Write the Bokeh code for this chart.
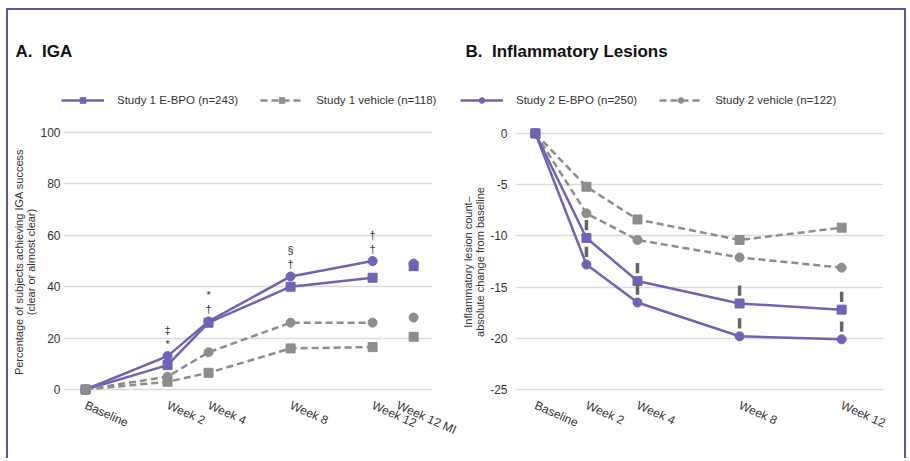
from bokeh.plotting import figure
from bokeh.models import FixedTicker, Legend, LegendItem, Label, Range1d
from bokeh.layouts import row, column
from bokeh.embed import file_html
from bokeh.resources import INLINE
from bokeh.core.properties import value

# ---------------- Panel A: IGA success (%) ----------------
iga_categories = ["Baseline", "Week 2", "Week 4", "Week 8", "Week 12", "Week 12 MI"]
iga_slots = [0, 2, 3, 5, 7, 8]
iga_s1_ebpo = [0, 9.5, 26, 40, 43.5]
iga_s1_vehicle = [0, 3, 6.5, 16, 16.5]
iga_s2_ebpo = [0, 13, 26.5, 44, 50]
iga_s2_vehicle = [0, 5, 14.5, 26, 26]
iga_mi_s1_ebpo = [48]
iga_mi_s1_vehicle = [20.5]
iga_mi_s2_ebpo = [49]
iga_mi_s2_vehicle = [28]
iga_sig_lower = ["", "*", "\u2020", "\u2020", "\u2020"]
iga_sig_upper = ["", "\u2021", "*", "\u00a7", "\u2020"]
iga_yticks = [0, 20, 40, 60, 80, 100]

# ---------------- Panel B: Inflammatory lesions ----------------
les_categories = ["Baseline", "Week 2", "Week 4", "Week 8", "Week 12"]
les_slots = [0, 1, 2, 4, 6]
les_s1_ebpo = [0, -10.2, -14.4, -16.6, -17.2]
les_s1_vehicle = [0, -5.2, -8.4, -10.4, -9.2]
les_s2_ebpo = [0, -12.8, -16.5, -19.8, -20.1]
les_s2_vehicle = [0, -7.8, -10.4, -12.1, -13.1]
les_sig = [False, True, True, True, True]
les_yticks = [0, -5, -10, -15, -20, -25]

PURPLE = "#6f63b4"
GRAY = "#8d8d8d"
TXT = "#333333"
FONT = "Liberation Sans"
DASH = "7 4"
NAN = float("nan")


def base_fig(width, xr, yr, left, right, ticks, cats, slots, ylabel, tstand, lstand):
    p = figure(width=width, height=333, x_range=Range1d(*xr), y_range=Range1d(*yr),
               output_backend="svg", toolbar_location=None,
               min_border_left=left, min_border_right=right,
               min_border_top=2, min_border_bottom=62)
    p.outline_line_color = None
    p.background_fill_color = "white"
    p.border_fill_color = "white"
    p.xgrid.grid_line_color = None
    p.ygrid.grid_line_color = "#dedad8"
    p.ygrid.grid_line_width = 1.5
    p.yaxis.ticker = FixedTicker(ticks=ticks)
    p.yaxis.major_label_overrides = {t: str(t) for t in ticks}
    p.xaxis.ticker = FixedTicker(ticks=slots)
    p.xaxis.major_label_overrides = {s: c for s, c in zip(slots, cats)}
    p.xaxis.major_label_orientation = -0.42
    for ax in (p.xaxis, p.yaxis):
        ax.axis_line_color = None
        ax.major_tick_line_color = None
        ax.minor_tick_line_color = None
        ax.major_tick_out = 0
        ax.major_tick_in = 0
        ax.minor_tick_out = 0
        ax.minor_tick_in = 0
        ax.major_label_text_font = FONT
        ax.major_label_text_font_size = "12px"
        ax.major_label_text_color = TXT
    p.xaxis.major_label_standoff = 8
    p.yaxis.major_label_standoff = tstand
    p.yaxis.axis_label = ylabel
    p.yaxis.axis_label_text_font = FONT
    p.yaxis.axis_label_text_font_size = "11px"
    p.yaxis.axis_label_text_line_height = 1.0
    p.yaxis.axis_label_text_font_style = "normal"
    p.yaxis.axis_label_text_color = TXT
    p.yaxis.axis_label_standoff = lstand
    return p


def series(p, xs, ys, color, marker, dashed):
    ln = p.line(xs, ys, line_color=color, line_width=2.5,
                line_dash=DASH if dashed else "solid")
    sc = p.scatter(xs, ys, marker=marker, size=9, fill_color=color, line_color=color)
    return [ln, sc]


# ---- Header strip: panel titles and legends ----
hdr = figure(width=896, height=115, x_range=Range1d(0, 896), y_range=Range1d(0, 115),
             output_backend="svg", toolbar_location=None, min_border=0,
             x_axis_type=None, y_axis_type=None)
hdr.outline_line_color = None
hdr.grid.grid_line_color = None
hdr.border_fill_color = "white"

legend_specs = [
    ("Study 1 E-BPO (n=243)", PURPLE, "square", False),
    ("Study 1 vehicle (n=118)", GRAY, "square", True),
    ("Study 2 E-BPO (n=250)", PURPLE, "circle", False),
    ("Study 2 vehicle (n=122)", GRAY, "circle", True),
]
items = []
for lab, col, mk, dsh in legend_specs:
    # legend-only renderers (no visible data points)
    rs = series(hdr, [NAN], [NAN], col, mk, dsh)
    items.append(LegendItem(label=lab, renderers=rs))


def add_legend(its, lx):
    leg = Legend(items=its, orientation="horizontal", location=(lx, 18),
                 glyph_width=43, glyph_height=14, label_height=14,
                 label_standoff=13, spacing=22, padding=0, margin=0,
                 border_line_color=None, background_fill_alpha=0,
                 label_text_font=FONT, label_text_font_size="11.5px",
                 label_text_color=TXT)
    hdr.add_layout(leg)


add_legend(items[:2], 53)
add_legend(items[2:], 452)
for tx, title in ((7, "A.\u00a0\u00a0IGA"), (457, "B.\u00a0\u00a0Inflammatory Lesions")):
    hdr.add_layout(Label(x=tx, y=74, text=title, text_font=FONT, text_font_size="17px",
                         text_font_style="bold", text_color="#111111",
                         text_baseline="middle", text_align="left"))

# ---- Panel A ----
pA = base_fig(450, (-0.537, 8.46), (-2.72, 101.95), 55, 26, iga_yticks,
              iga_categories, iga_slots,
              "Percentage of subjects achieving IGA success\n(clear or almost clear)", 3, 0)
xa = iga_slots[:5]
series(pA, xa, iga_s1_ebpo, PURPLE, "square", False)
series(pA, xa, iga_s1_vehicle, GRAY, "square", True)
series(pA, xa, iga_s2_ebpo, PURPLE, "circle", False)
series(pA, xa, iga_s2_vehicle, GRAY, "circle", True)
xmi = [iga_slots[5]]
pA.scatter(xmi, iga_mi_s1_vehicle, marker="square", size=9, color=GRAY)
pA.scatter(xmi, iga_mi_s2_vehicle, marker="circle", size=9, color=GRAY)
pA.scatter(xmi, iga_mi_s1_ebpo, marker="square", size=9, color=PURPLE)
pA.scatter(xmi, iga_mi_s2_ebpo, marker="circle", size=9, color=PURPLE)
pA.text(xa, iga_s2_ebpo, text=iga_sig_lower, y_offset=-12, text_align="center",
        text_baseline="middle", text_font=value(FONT), text_font_size="11px",
        text_color=TXT)
pA.text(xa, iga_s2_ebpo, text=iga_sig_upper, y_offset=-26, text_align="center",
        text_baseline="middle", text_font=value(FONT), text_font_size="11px",
        text_color=TXT)

# ---- Panel B ----
pB = base_fig(446, (-0.39, 6.82), (-25.68, 0.58), 57, 21, les_yticks,
              les_categories, les_slots,
              "Inflammatory lesion count\u2013\nabsolute change from baseline", 8, 1)
series(pB, les_slots, les_s1_vehicle, GRAY, "square", True)
series(pB, les_slots, les_s2_vehicle, GRAY, "circle", True)
series(pB, les_slots, les_s1_ebpo, PURPLE, "square", False)
series(pB, les_slots, les_s2_ebpo, PURPLE, "circle", False)
sx, sy0, sy1 = [], [], []
for s, m, a, b in zip(les_slots, les_sig, les_s1_ebpo, les_s2_ebpo):
    if m:
        for v in (a, b):
            sx.append(s)
            sy0.append(v + 0.75)
            sy1.append(v + 1.75)
pB.segment(sx, sy0, sx, sy1, line_color="#666666", line_width=3.5)

layout = column(hdr, row(pA, pB),
                styles={"border-top": "2px solid #5e55a0",
                        "border-left": "2px solid #5e55a0",
                        "border-right": "2px solid #5e55a0",
                        "margin-left": "6px", "margin-top": "8px"})

open("out.html", "w").write(file_html(layout, INLINE))
